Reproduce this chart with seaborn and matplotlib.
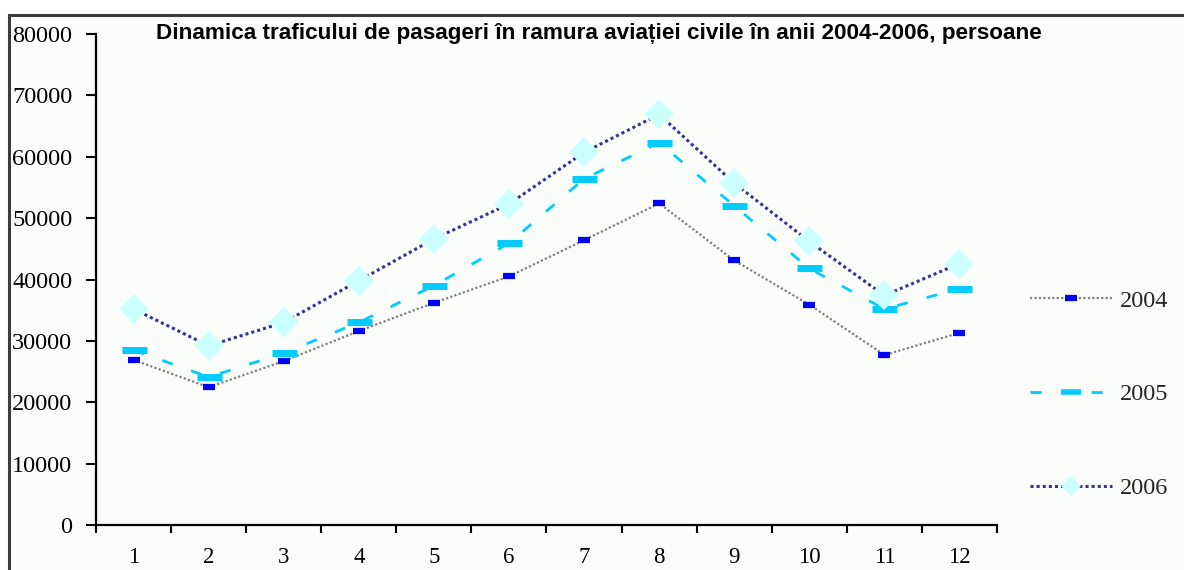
import matplotlib
matplotlib.use("Agg")
import matplotlib.pyplot as plt
from matplotlib.patches import Rectangle
from matplotlib.ticker import FixedLocator, NullFormatter, FixedFormatter
import seaborn as sns
import pandas as pd

months = [1, 2, 3, 4, 5, 6, 7, 8, 9, 10, 11, 12]
y2004 = [26900, 22450, 26700, 31600, 36200, 40500, 46400, 52400, 43100, 35900, 27700, 31300]
y2005 = [28500, 24100, 28000, 33000, 39000, 45900, 56400, 62300, 52000, 41800, 35200, 38500]
y2006 = [35200, 29200, 33000, 39800, 46600, 52300, 60700, 66900, 55700, 46200, 37400, 42600]
series_labels = ["2004", "2005", "2006"]
title = "Dinamica traficului de pasageri în ramura aviației civile în anii 2004-2006, persoane"
yticks = [0, 10000, 20000, 30000, 40000, 50000, 60000, 70000, 80000]

sns.set_theme(style="white")
plt.rcParams['font.family'] = ['Liberation Serif', 'DejaVu Serif']

fig = plt.figure(figsize=(11.84, 5.70), dpi=100)
fig.patch.set_facecolor("white")
frame = Rectangle((9 / 1184, -0.1), 1.2, (570 - 15) / 570 + 0.1, transform=fig.transFigure,
                  facecolor="#FBFDFB", edgecolor="#3C3C3C", linewidth=2.2, zorder=-10)
fig.patches.append(frame)

ax = fig.add_axes([96 / 1184, 45 / 570, 901 / 1184, 491 / 570])
ax.set_facecolor("none")
ax.set_zorder(5)

df = pd.DataFrame({"month": months, "2004": y2004, "2005": y2005, "2006": y2006})

sns.lineplot(data=df, x="month", y="2004", ax=ax, color="#808080", linestyle=(0, (1, 1)),
             linewidth=1.6, marker="_", markersize=9, markeredgewidth=4.5,
             markeredgecolor="#0000FF", markerfacecolor="#0000FF", label=series_labels[0])
sns.lineplot(data=df, x="month", y="2005", ax=ax, color="#00CCFF", linestyle=(0, (4, 7)),
             linewidth=2.0, marker="_", markersize=18, markeredgewidth=5,
             markeredgecolor="#00CCFF", markerfacecolor="#00CCFF", label=series_labels[1])
sns.lineplot(data=df, x="month", y="2006", ax=ax, color="#333399", linestyle=(0, (1, 1)),
             linewidth=2.2, marker="D", markersize=15, markeredgewidth=0,
             markerfacecolor="#CCFFFF", markeredgecolor="#CCFFFF", label=series_labels[2])

ax.set_xlim(0.5, 12.5)
ax.set_ylim(0, 80000)
ax.set_xlabel("")
ax.set_ylabel("")

ax.xaxis.set_major_locator(FixedLocator([m - 0.5 for m in months] + [12.5]))
ax.xaxis.set_major_formatter(NullFormatter())
ax.xaxis.set_minor_locator(FixedLocator(months))
ax.xaxis.set_minor_formatter(FixedFormatter([str(m) for m in months]))
ax.tick_params(axis="x", which="major", direction="out", length=6, width=1.5, color="black", bottom=True)
ax.tick_params(axis="x", which="minor", length=0, pad=16, labelsize=16.5, labelcolor="black", bottom=True)

ax.set_yticks(yticks)
ax.set_yticklabels([str(v) for v in yticks])
ax.tick_params(axis="y", which="major", direction="out", length=7, width=1.5, color="black",
               left=True, pad=10, labelsize=17.5, labelcolor="black")

for s in ["top", "right"]:
    ax.spines[s].set_visible(False)
for s in ["left", "bottom"]:
    ax.spines[s].set_color("black")
    ax.spines[s].set_linewidth(1.6)

fig.text(599 / 1184, 1 - 33 / 570, title, ha="center", va="center", fontsize=16.2,
         fontweight="bold", family=["Liberation Sans", "DejaVu Sans"], color="black")

leg = ax.legend(loc="upper left", bbox_to_anchor=(1020 / 1184, 1 - 280 / 570),
                bbox_transform=fig.transFigure, frameon=False, fontsize=17.5,
                handlelength=3.4, labelspacing=2.95, handletextpad=0.3, borderaxespad=0)
handles = leg.legend_handles
handles[0].set_markersize(8)
handles[1].set_markersize(14)
handles[1].set_markeredgewidth(4)
handles[2].set_markersize(10)

fig.savefig("out.png", dpi=100)
